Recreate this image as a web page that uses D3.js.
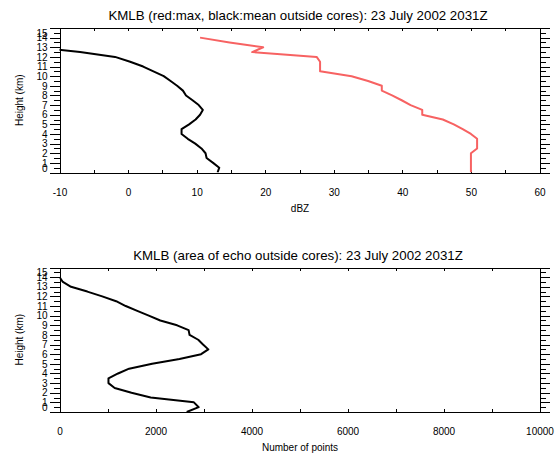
<!DOCTYPE html>
<html lang="en">
<head>
<meta charset="UTF-8">
<title>KMLB profiles</title>
<script src="https://d3js.org/d3.v7.min.js"></script>
<style>
    body { margin: 0; background: #ffffff; }
    svg { display: block; font-family: 'Liberation Sans', Arial, sans-serif; }
    .axis path, .axis line { stroke: #000; shape-rendering: crispEdges; }
    .axis text { font-size: 10px; fill: #000; }
    .title { font-size: 13.3px; fill: #000; }
    .label { font-size: 10px; fill: #000; }
</style>
</head>
<body>
<svg id="chart" width="557" height="456"></svg>
<script>
// heights (km) of the profile levels
var heightKm = [0, 0.5, 1, 1.5, 2, 2.5, 3, 3.5, 4, 4.5, 5, 5.5, 6, 6.5, 7,
    7.5, 8, 8.5, 9, 9.5, 10, 10.5, 11, 11.5, 12, 12.5, 13, 13.5, 14];

// top panel: max (red) and mean (black) reflectivity outside cores, dBZ
var maxDbz = [50.0, 50.0, 50.0, 50.0, 50.0, 50.9, 50.9, 50.9, 50.0, 48.8, 47.5,
    45.9, 42.9, 42.9, 41.2, 39.9, 38.5, 37.0, 37.0, 35.0, 32.6, 28.0, 28.0,
    28.0, 27.5, 18.1, 19.7, 14.8, 10.5];
var meanDbz = [13.05, 13.3, 12.4, 11.45, 11.3, 10.7, 9.8, 8.7, 7.8, 7.8, 8.9,
    9.85, 10.5, 10.9, 10.3, 9.4, 8.45, 8.0, 7.15, 6.2, 5.2, 3.7, 2.2, 0.3,
    -1.9, -7.0, -13.5, null, null];

// bottom panel: area of echo outside cores, number of points
var areaPoints = [2650, 2900, 2800, 1900, 1500, 1150, 1020, 1020, 1220, 1450,
    1930, 2500, 2950, 3100, 2990, 2890, 2710, 2690, 2450, 2100, 1860, 1620,
    1380, 1180, 890, 580, 240, 70, 0];

var yTicks = [0, 1, 2, 3, 4, 5, 6, 7, 8, 9, 10, 11, 12, 13, 14, 15];
var yMinorTicks = [0.5, 1.5, 2.5, 3.5, 4.5, 5.5, 6.5, 7.5, 8.5, 9.5, 10.5, 11.5,
    12.5, 13.5, 14.5];
var dbzTicks = [-10, 0, 10, 20, 30, 40, 50, 60];
var dbzMinorTicks = [-5, 5, 15, 25, 35, 45, 55];
var pointTicks = [0, 2000, 4000, 6000, 8000, 10000];
var pointMinorTicks = [1000, 3000, 5000, 7000, 9000];

var svg = d3.select("#chart");
var left = 59.5, right = 539.5;

function panel(opt) {
    var x = d3.scaleLinear().domain(opt.xDomain).range([left, right]);
    var y = d3.scaleLinear().domain([0, 15]).range([opt.bottom, opt.top]);
    var g = svg.append("g");

    // clip so lines stay inside the frame
    g.append("clipPath").attr("id", opt.id)
        .append("rect")
        .attr("x", left).attr("y", opt.top)
        .attr("width", right - left).attr("height", opt.bottom - opt.top);

    // bottom axis, ticks inward, labels below
    var bx = g.append("g").attr("class", "axis")
        .attr("transform", "translate(0," + opt.bottom + ")")
        .call(d3.axisBottom(x).tickValues(opt.xTicks).tickSize(-3)
            .tickPadding(16).tickSizeOuter(0).tickFormat(d3.format("d")));
    bx.selectAll("text").text(function (d) { return d < 0 ? "-" + Math.abs(d) : d; });
    g.append("g").attr("class", "axis")
        .attr("transform", "translate(0," + opt.bottom + ")")
        .call(d3.axisBottom(x).tickValues(opt.xMinor).tickSize(-3)
            .tickSizeOuter(0).tickFormat(""))
        .select(".domain").remove();

    // top axis, ticks inward
    g.append("g").attr("class", "axis")
        .attr("transform", "translate(0," + opt.top + ")")
        .call(d3.axisTop(x).tickValues(opt.xTicks.concat(opt.xMinor))
            .tickSize(-3).tickSizeOuter(0).tickFormat(""));

    // left axis with labels
    var ly = g.append("g").attr("class", "axis")
        .attr("transform", "translate(" + left + ",0)")
        .call(d3.axisLeft(y).tickValues(yTicks).tickSize(10)
            .tickPadding(2).tickSizeOuter(0));
    // end labels are kept inside the frame
    ly.selectAll("text").attr("dy", function (d) {
        if (d === 15) return "0.8em";
        if (d === 0) return "-0.12em";
        return "0.32em";
    });
    g.append("g").attr("class", "axis")
        .attr("transform", "translate(" + left + ",0)")
        .call(d3.axisLeft(y).tickValues(yMinorTicks).tickSize(6).tickFormat(""))
        .select(".domain").remove();

    // right axis, ticks outward, no labels
    g.append("g").attr("class", "axis")
        .attr("transform", "translate(" + right + ",0)")
        .call(d3.axisRight(y).tickValues(yTicks).tickSize(10)
            .tickSizeOuter(0).tickFormat(""));
    g.append("g").attr("class", "axis")
        .attr("transform", "translate(" + right + ",0)")
        .call(d3.axisRight(y).tickValues(yMinorTicks).tickSize(6).tickFormat(""))
        .select(".domain").remove();

    g.append("text").attr("class", "title")
        .attr("x", 298).attr("y", opt.top - 8)
        .attr("text-anchor", "middle")
        .text(opt.title);

    g.append("text").attr("class", "label")
        .attr("x", 300).attr("y", opt.bottom + 39)
        .attr("text-anchor", "middle")
        .text(opt.xLabel);

    g.append("text").attr("class", "label")
        .attr("transform", "translate(23," + ((opt.top + opt.bottom) / 2) + ") rotate(-90)")
        .attr("text-anchor", "middle")
        .text("Height (km)");

    var line = d3.line()
        .defined(function (d) { return d[0] !== null; })
        .x(function (d) { return x(d[0]); })
        .y(function (d) { return y(d[1]); });

    opt.series.forEach(function (s) {
        g.append("path")
            .datum(s.values.map(function (v, i) { return [v, heightKm[i]]; }))
            .attr("clip-path", "url(#" + opt.id + ")")
            .attr("fill", "none")
            .attr("stroke", s.color)
            .attr("stroke-width", 2)
            .attr("stroke-linejoin", "round")
            .attr("d", line);
    });
}

panel({
    id: "clipTop",
    top: 28, bottom: 172.5,
    xDomain: [-10, 60], xTicks: dbzTicks, xMinor: dbzMinorTicks,
    title: "KMLB (red:max, black:mean outside cores): 23 July 2002 2031Z",
    xLabel: "dBZ",
    series: [
        { values: maxDbz, color: "#f76262" },
        { values: meanDbz, color: "#000000" }
    ]
});

panel({
    id: "clipBottom",
    top: 267.5, bottom: 412,
    xDomain: [0, 10000], xTicks: pointTicks, xMinor: pointMinorTicks,
    title: "KMLB (area of echo outside cores): 23 July 2002 2031Z",
    xLabel: "Number of points",
    series: [
        { values: areaPoints, color: "#000000" }
    ]
});
</script>
</body>
</html>
